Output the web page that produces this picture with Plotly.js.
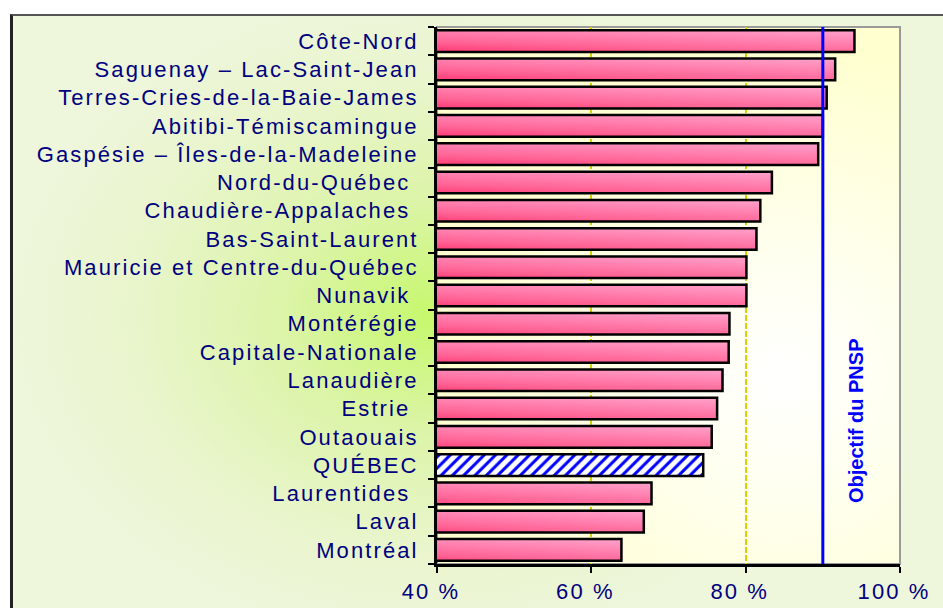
<!DOCTYPE html>
<html>
<head>
<meta charset="utf-8">
<script src="https://cdn.plot.ly/plotly-3.0.1.min.js"></script>
<style>
  html, body { margin: 0; padding: 0; background: #ffffff; }
  #wrap { position: relative; width: 943px; height: 608px; overflow: hidden; background: #ffffff; }
  #frame { position: absolute; left: 10px; top: 14px; width: 960px; height: 620px;
    border-left: 3px solid #222; border-top: 2px solid #555; box-sizing: border-box;
    background: radial-gradient(ellipse 430px 330px at 420px 300px, #c6f86c 0%, #dcf4a8 35%, #e9f5cc 70%, #eef6dc 100%); }
  #plotbg { position: absolute; left: 437px; top: 27px; width: 463px; height: 537px;
    background: radial-gradient(ellipse 330px 330px at 345px 350px, #ffffff 0%, #fffff0 35%, #ffffd0 100%); }
  #chart { position: absolute; left: 0; top: 0; width: 943px; height: 608px; }
  .ytick text, .xtick text { letter-spacing: 2.1px; }
  .barlayer .trace.bars:nth-child(1) .point path { fill: url(#barGrad) !important; }
</style>
</head>
<body>
<svg width="0" height="0" style="position:absolute">
  <defs>
    <linearGradient id="barGrad" x1="0" y1="1" x2="1" y2="0">
      <stop offset="0%" stop-color="#ff1458"/>
      <stop offset="45%" stop-color="#ff6496"/>
      <stop offset="100%" stop-color="#ffa2cc"/>
    </linearGradient>
  </defs>
</svg>
<div id="wrap">
  <div id="frame"></div>
  <div id="plotbg"></div>
  <div id="chart"></div>
</div>
<script>
const regions = ["Côte-Nord","Saguenay – Lac-Saint-Jean","Terres-Cries-de-la-Baie-James","Abitibi-Témiscamingue","Gaspésie – Îles-de-la-Madeleine","Nord-du-Québec","Chaudière-Appalaches","Bas-Saint-Laurent","Mauricie et Centre-du-Québec","Nunavik","Montérégie","Capitale-Nationale","Lanaudière","Estrie","Outaouais","QUÉBEC","Laurentides","Laval","Montréal"];
const values = [94.1, 91.6, 90.5, 90.0, 89.4, 83.4, 81.9, 81.4, 80.1, 80.1, 77.9, 77.8, 77.0, 76.3, 75.6, 74.5, 67.8, 66.8, 63.9];
const tickLabels = ["Côte-Nord","Saguenay – Lac-Saint-Jean","Terres-Cries-de-la-Baie-James","Abitibi-Témiscamingue","Gaspésie – Îles-de-la-Madeleine","Nord-du-Québec\u00a0","Chaudière-Appalaches\u00a0","Bas-Saint-Laurent","Mauricie et Centre-du-Québec","Nunavik\u00a0","Montérégie","Capitale-Nationale","Lanaudière","Estrie\u00a0","Outaouais","QUÉBEC","Laurentides\u00a0","Laval","Montréal"];
const xTickVals = [40, 60, 80, 100];
const xTickLabels = ["40 %", "60 %", "80 %", "100 %"];
const target = 90;
const targetLabel = "Objectif du PNSP";
const provinceName = "QUÉBEC";

const regionX = values.map((v, i) => regions[i] === provinceName ? null : v);
const provX = values.filter((v, i) => regions[i] === provinceName);

const traces = [
  { type: 'bar', orientation: 'h', y: regions, x: regionX,
    marker: { color: '#ff5a8e', line: { color: '#000000', width: 2.5 } },
    hoverinfo: 'x+y' },
  { type: 'bar', orientation: 'h', y: [provinceName], x: provX,
    marker: { color: '#ffffff', line: { color: '#000000', width: 2.5 },
      pattern: { shape: '/', fgcolor: '#0000ff', bgcolor: '#ffffff', size: 8, solidity: 0.38 } },
    hoverinfo: 'x+y' }
];

const navy = '#000080';
const layout = {
  width: 943, height: 608,
  margin: { l: 437, r: 43, t: 27, b: 44, pad: 0 },
  paper_bgcolor: 'rgba(0,0,0,0)', plot_bgcolor: 'rgba(0,0,0,0)',
  showlegend: false, barmode: 'overlay', bargap: 0.235,
  font: { family: 'Liberation Sans, Arial, sans-serif', color: navy },
  xaxis: {
    range: [40, 100], tickmode: 'array', tickvals: xTickVals, ticktext: xTickLabels,
    ticks: 'outside', ticklen: 6, tickwidth: 2, tickcolor: '#000',
    showline: true, linecolor: '#000', linewidth: 2.5,
    showgrid: true, gridcolor: '#d4d400', gridwidth: 2, griddash: '6px,2px',
    zeroline: false, tickfont: { size: 22, color: navy }, ticklabelshift: -6,
    fixedrange: true
  },
  yaxis: {
    type: 'category', autorange: 'reversed',
    tickmode: 'array', tickvals: regions, ticktext: tickLabels,
    tickson: 'boundaries', ticks: 'outside', ticklen: 6, tickwidth: 2, tickcolor: '#000',
    showline: true, linecolor: '#000', linewidth: 3,
    showgrid: false, zeroline: false,
    tickfont: { size: 22, color: navy }, ticklabelstandoff: 11,
    fixedrange: true
  },
  shapes: [
    { type: 'rect', xref: 'paper', yref: 'paper', x0: 0, x1: 1, y0: 0, y1: 1,
      line: { color: '#9a9a9a', width: 2 }, layer: 'below' },
    { type: 'line', xref: 'x', yref: 'paper', x0: target, x1: target, y0: 0, y1: 1,
      line: { color: '#0000ff', width: 3 } }
  ],
  annotations: [
    { xref: 'x', yref: 'paper', x: target, y: 0.266, xshift: 33, text: targetLabel,
      xanchor: 'center', yanchor: 'middle',
      showarrow: false, textangle: -90,
      font: { size: 20, color: '#0000ff', family: 'Liberation Sans, Arial, sans-serif', weight: 'bold' } }
  ]
};

Plotly.newPlot('chart', traces, layout, { displayModeBar: false, staticPlot: true });
</script>
</body>
</html>
